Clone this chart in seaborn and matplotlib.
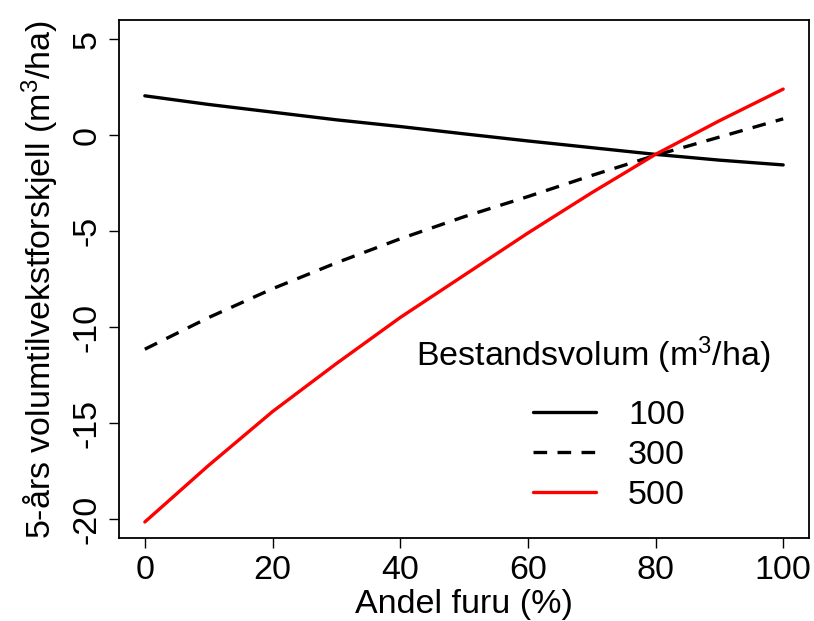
import matplotlib
matplotlib.use("Agg")
import matplotlib.pyplot as plt
import seaborn as sns
import pandas as pd

andel_furu = [0, 10, 20, 30, 40, 50, 60, 70, 80, 90, 100]
vol_100 = [2.05, 1.6, 1.2, 0.8, 0.45, 0.07, -0.3, -0.65, -1.0, -1.3, -1.55]
vol_300 = [-11.15, -9.5, -8.0, -6.65, -5.4, -4.25, -3.2, -2.1, -1.05, -0.1, 0.85]
vol_500 = [-20.15, -17.2, -14.4, -11.9, -9.5, -7.3, -5.1, -3.0, -1.0, 0.75, 2.4]
groups = ["100", "300", "500"]
x_ticks = [0, 20, 40, 60, 80, 100]
y_ticks = [-20, -15, -10, -5, 0, 5]

sns.set_style("ticks")
plt.rcParams['font.family'] = ['Liberation Sans', 'DejaVu Sans']
plt.rcParams['mathtext.fontset'] = 'custom'
plt.rcParams['mathtext.rm'] = 'Liberation Sans'
plt.rcParams['mathtext.it'] = 'Liberation Sans'
plt.rcParams['axes.unicode_minus'] = False
plt.rcParams['text.color'] = 'black'
plt.rcParams['axes.labelcolor'] = 'black'
plt.rcParams['xtick.color'] = 'black'
plt.rcParams['ytick.color'] = 'black'

n = len(andel_furu)
df = pd.DataFrame({
    "x": andel_furu * 3,
    "y": vol_100 + vol_300 + vol_500,
    "g": [groups[0]] * n + [groups[1]] * n + [groups[2]] * n,
})

W, H = 814, 621
L, R, T, B = 119.3, 808.7, 20, 538.3
fig = plt.figure(figsize=(W / 100, H / 100), dpi=100)
ax = fig.add_axes([L / W, 1 - B / H, (R - L) / W, (B - T) / H])

palette = {"100": "black", "300": "black", "500": "#ff0000"}
dashes = {"100": "", "300": (4.1, 3.1), "500": ""}
sns.lineplot(data=df, x="x", y="y", hue="g", style="g", palette=palette,
             dashes=dashes, linewidth=2.4, ax=ax, legend=False, sort=True)

ax.set_xlim(-4, 104)
ax.set_ylim(-21, 6)
ax.set_xticks(x_ticks)
ax.set_yticks(y_ticks)
fs = 24.5
ax.tick_params(axis='both', labelsize=fs, length=7, width=1, color='black', direction='out', pad=5)
for lab in ax.get_yticklabels():
    lab.set_rotation(90)
    lab.set_va('center')
ax.set_xlabel("Andel furu (%)", fontsize=fs, labelpad=2)
ax.set_ylabel("5-års volumtilvekstforskjell (m$^3$/ha)", fontsize=fs, labelpad=8)
for s in ax.spines.values():
    s.set_visible(True)
    s.set_color('black')
    s.set_linewidth(1.3)

# legend title as separate text
fig.text(416 / W, 1 - 355 / H, "Bestandsvolum (m$^3$/ha)", fontsize=fs,
         ha='left', va='center')

handles = ax.get_lines()[:3]
leg = ax.legend(handles=handles, labels=groups,
                fontsize=fs, frameon=False,
                loc='upper left', bbox_to_anchor=(533 / W, 1 - 400 / H),
                bbox_transform=fig.transFigure,
                handlelength=1.85, handletextpad=0.94, labelspacing=0.26, borderpad=0,
                borderaxespad=0)

fig.savefig("out.png", dpi=100)
